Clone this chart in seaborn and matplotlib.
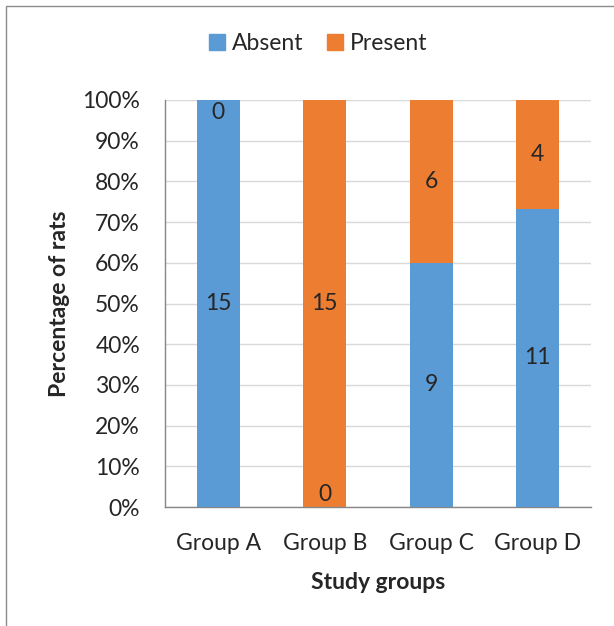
import matplotlib
matplotlib.use("Agg")
import matplotlib.pyplot as plt
import matplotlib.ticker as mtick
from matplotlib.patches import Patch, Rectangle
import seaborn as sns
import pandas as pd
import numpy as np

# counts of rats per group
groups = ["Group A", "Group B", "Group C", "Group D"]
absent = [15, 0, 9, 11]
present = [0, 15, 6, 4]

blue = "#5B9BD5"
orange = "#ED7D31"

sns.set_style("white")
plt.rcParams["font.family"] = ["Lato", "DejaVu Sans"]
FS = 16.5

total = np.array(absent) + np.array(present)
df = pd.DataFrame({
    "group": groups,
    "absent_pct": np.array(absent) / total * 100,
    "total_pct": np.array(total) / total * 100,
})

fig = plt.figure(figsize=(6.14, 6.26), dpi=100)
ax = fig.add_axes([165 / 614, 1 - 507 / 626, 426 / 614, 407 / 626])

# stacked: orange full height first, blue absent part on top of it
sns.barplot(data=df, x="group", y="total_pct", color=orange, width=0.4,
            saturation=1, linewidth=0, ax=ax, zorder=2)
sns.barplot(data=df, x="group", y="absent_pct", color=blue, width=0.4,
            saturation=1, linewidth=0, ax=ax, zorder=3)

# labels in the middle of each segment
for i in range(len(groups)):
    a = df["absent_pct"][i]
    for val, lo, hi in [(absent[i], 0, a), (present[i], a, 100)]:
        if val == 0:
            if lo >= 50:
                ax.text(i, lo - 0.5, str(val), ha="center", va="top", fontsize=FS, zorder=5)
            else:
                ax.text(i, hi + 0.5, str(val), ha="center", va="bottom", fontsize=FS, zorder=5)
        else:
            ax.text(i, (lo + hi) / 2, str(val), ha="center", va="center", fontsize=FS, zorder=5)

ax.set_ylim(0, 100)
ax.set_xlim(-0.5, 3.5)
ax.yaxis.set_major_locator(mtick.MultipleLocator(10))
ax.yaxis.set_major_formatter(mtick.PercentFormatter(decimals=0))
ax.grid(axis="y", color="#d9d9d9", lw=1, zorder=0)
ax.set_xticks(np.arange(-0.5, 4, 1), minor=True)
ax.tick_params(axis="x", which="major", length=0, pad=19, labelsize=FS)
ax.tick_params(axis="x", which="minor", length=8, color="#868686", width=1)
ax.tick_params(axis="y", length=8, color="#868686", width=1, pad=10, labelsize=FS)

for s in ["top", "right"]:
    ax.spines[s].set_visible(False)
for s in ["left", "bottom"]:
    ax.spines[s].set_color("#868686")
    ax.spines[s].set_linewidth(1)

ax.set_xlabel("Study groups", fontsize=FS, fontweight="bold", labelpad=13)
ax.set_ylabel("Percentage of rats", fontsize=FS, fontweight="bold", labelpad=9)

handles = [Patch(color=blue, label="Absent"), Patch(color=orange, label="Present")]
fig.legend(handles=handles, loc="center", bbox_to_anchor=(0.518, 0.93), ncol=2,
           frameon=False, fontsize=FS, handlelength=0.7, handleheight=0.7,
           handletextpad=0.3, columnspacing=1.0)

# outer chart frame (cropped)
fig.patches.append(Rectangle((6 / 614, -0.05), 1.1, 1 - 6 / 626 + 0.05,
                             transform=fig.transFigure, fill=False,
                             edgecolor="#8c8c8c", lw=1))

fig.savefig("out.png", dpi=100)
